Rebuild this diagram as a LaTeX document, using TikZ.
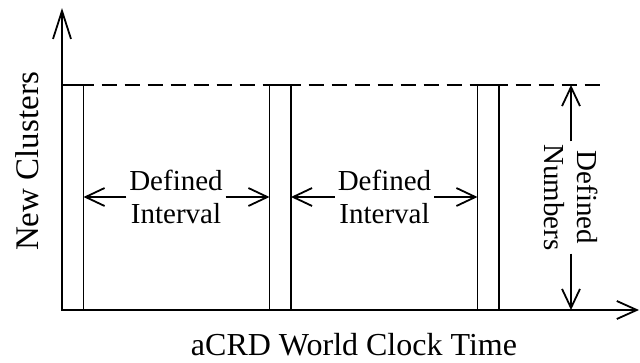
\documentclass[tikz,border=0pt]{standalone}
\usepackage{fontspec}
\setmainfont{Liberation Serif}
\usetikzlibrary{arrows.meta}

\begin{document}
\begin{tikzpicture}[x=1pt, y=-1pt,
  line width=1.8pt,
  bar/.style={draw, line width=1.8pt, minimum width=21.5pt, minimum height=225pt,
              inner sep=0pt, outer sep=0pt},
  lbl/.style={align=center, inner sep=2pt, font=\fontsize{29}{33.5}\selectfont},
  axislbl/.style={inner sep=0pt, font=\fontsize{32}{38}\selectfont},
  dimtip/.style={-{Straight Barb[length=19pt, width=18pt]}},
  ytip/.style={-{Straight Barb[length=28pt, width=18pt]}},
  xtip/.style={-{Straight Barb[length=20pt, width=18pt]}},
]
\useasboundingbox (0,0) rectangle (640,362);

% axes
\coordinate (o) at (62,310);
\coordinate (ytop) at (62,8);
\coordinate (xend) at (639,310);
\draw[ytip] (o) -- (ytop);
\draw[xtip] (o) -- (xend);

% cluster bars
\node[bar] (b1) at (72.75,197.5) {};
\node[bar] (b2) at (280.25,197.5) {};
\node[bar] (b3) at (488.25,197.5) {};

% level line
\coordinate (dend) at (600,85);
\draw[dash pattern=on 15pt off 8pt, dash phase=5pt] (b1.north east) -- (dend);

% interval dimensions
\node[lbl] (i1) at (176,197) {Defined\\Interval};
\node[lbl] (i2) at (384.5,197) {Defined\\Interval};
\draw[dimtip] (i1.west) -- (b1.east |- i1.west);
\draw[dimtip] (i1.east) -- (b2.west |- i1.east);
\draw[dimtip] (i2.west) -- (b2.east |- i2.west);
\draw[dimtip] (i2.east) -- (b3.west |- i2.east);

% numbers dimension
\node[lbl, rotate=-90] (n) at (571,197.5) {Defined\\Numbers};
\coordinate (ntop) at (n |- b3.north);
\coordinate (nbot) at (n |- o);
\draw[dimtip] (n.west) -- (ntop);
\draw[dimtip] (n.east) -- (nbot);

% axis labels
\node[axislbl, rotate=90, font=\fontsize{33}{38}\selectfont] (ylab) at (27,161.5) {New Clusters};
\node[axislbl, anchor=base] (xlab) at (354,355) {aCRD World Clock Time};
\end{tikzpicture}
\end{document}
